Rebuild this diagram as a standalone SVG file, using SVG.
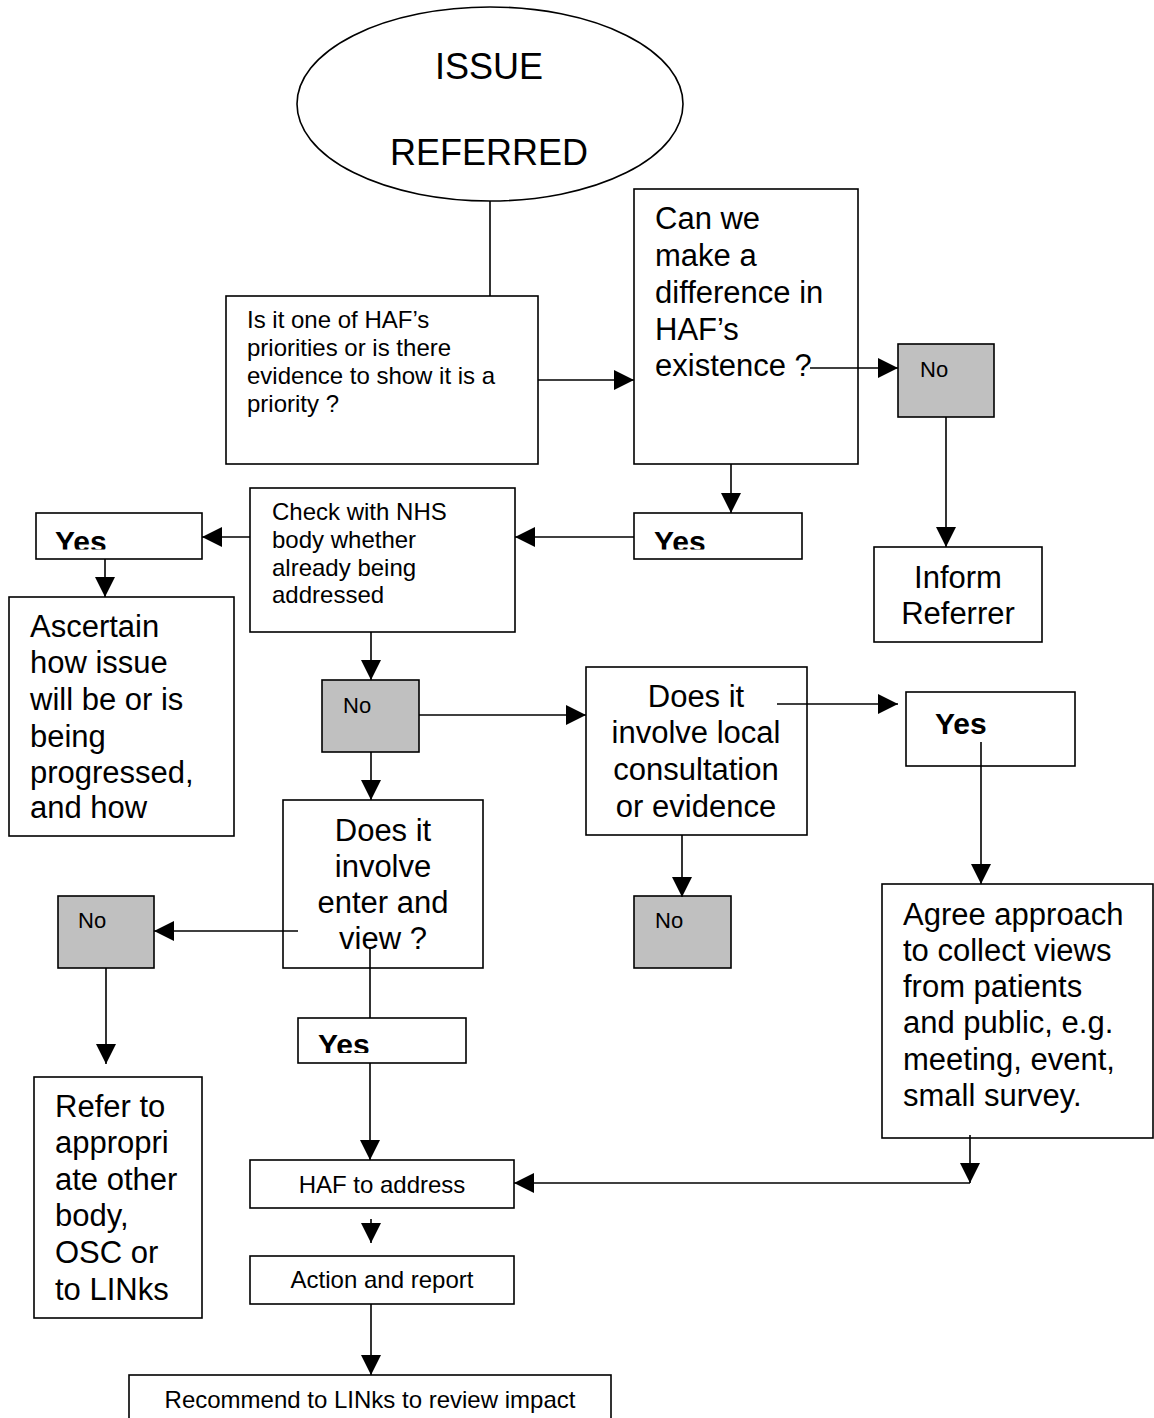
<svg xmlns="http://www.w3.org/2000/svg" width="1154" height="1418" viewBox="0 0 1154 1418">
<style>
.box{fill:#fff;stroke:#000;stroke-width:1.6}
.grey{fill:#c0c0c0;stroke:#000;stroke-width:1.6}
.t{font-family:"Liberation Sans",Arial,sans-serif;fill:#000}
.big{font-size:31px}
.sm{font-size:24px}
.no{font-size:22px}
.yes{font-size:30px;font-weight:bold}
.huge{font-size:36px}
.mid{text-anchor:middle}
.ln{fill:none;stroke:#000;stroke-width:1.6}
.ar{marker-end:url(#ah)}
</style>
<defs>
<marker id="ah" markerUnits="userSpaceOnUse" markerWidth="20" markerHeight="20" refX="20" refY="10" orient="auto">
<path d="M0,0 L20,10 L0,20 z" fill="#000"/>
</marker>
<clipPath id="cy1"><rect x="36" y="513" width="166" height="36.5"/></clipPath>
<clipPath id="cy2"><rect x="634" y="513" width="168" height="36.5"/></clipPath>
<clipPath id="cy3"><rect x="298" y="1018" width="168" height="35"/></clipPath>
</defs>

<g id="issue-referred">
<ellipse class="box" cx="490" cy="104" rx="193" ry="97"/>
<text class="t huge mid" x="489" y="79">ISSUE</text>
<text class="t huge mid" x="489" y="165">REFERRED</text>
</g>

<g id="priority">
<rect class="box" x="226" y="296" width="312" height="168"/>
<text class="t sm"><tspan x="247" y="328">Is it one of HAF’s</tspan><tspan x="247" y="356">priorities or is there</tspan><tspan x="247" y="384">evidence to show it is a</tspan><tspan x="247" y="412">priority ?</tspan></text>
</g>

<g id="make-difference">
<rect class="box" x="634" y="189" width="224" height="275"/>
<text class="t big"><tspan x="655" y="229">Can we</tspan><tspan x="655" y="266">make a</tspan><tspan x="655" y="303">difference in</tspan><tspan x="655" y="340">HAF’s</tspan><tspan x="655" y="376">existence ?</tspan></text>
</g>

<g id="no1">
<rect class="grey" x="898" y="344" width="96" height="73"/>
<text class="t no" x="920" y="377">No</text>
</g>

<g id="inform-referrer">
<rect class="box" x="874" y="547" width="168" height="95"/>
<text class="t big mid"><tspan x="958" y="588">Inform</tspan><tspan x="958" y="624">Referrer</tspan></text>
</g>

<g id="yes-right">
<rect class="box" x="634" y="513" width="168" height="46"/>
<text class="t yes" x="654" y="552" clip-path="url(#cy2)">Yes</text>
</g>

<g id="check-nhs">
<rect class="box" x="250" y="488" width="265" height="144"/>
<text class="t sm"><tspan x="272" y="520">Check with NHS</tspan><tspan x="272" y="548">body whether</tspan><tspan x="272" y="576">already being</tspan><tspan x="272" y="603">addressed</tspan></text>
</g>

<g id="yes-left">
<rect class="box" x="36" y="513" width="166" height="46"/>
<text class="t yes" x="55" y="552" clip-path="url(#cy1)">Yes</text>
</g>

<g id="ascertain">
<rect class="box" x="9" y="597" width="225" height="239"/>
<text class="t big"><tspan x="30" y="637">Ascertain</tspan><tspan x="30" y="673">how issue</tspan><tspan x="30" y="710">will be or is</tspan><tspan x="30" y="747">being</tspan><tspan x="30" y="783">progressed,</tspan><tspan x="30" y="818">and how</tspan></text>
</g>

<g id="no2">
<rect class="grey" x="322" y="680" width="97" height="72"/>
<text class="t no" x="343" y="713">No</text>
</g>

<g id="local-consultation">
<rect class="box" x="586" y="667" width="221" height="168"/>
<text class="t big mid"><tspan x="696" y="707">Does it</tspan><tspan x="696" y="743">involve local</tspan><tspan x="696" y="780">consultation</tspan><tspan x="696" y="817">or evidence</tspan></text>
</g>

<g id="yes2">
<rect class="box" x="906" y="692" width="169" height="74"/>
<text class="t yes" x="935" y="734">Yes</text>
</g>

<g id="no3">
<rect class="grey" x="634" y="896" width="97" height="72"/>
<text class="t no" x="655" y="928">No</text>
</g>

<g id="agree-approach">
<rect class="box" x="882" y="884" width="271" height="254"/>
<text class="t big"><tspan x="903" y="925">Agree approach</tspan><tspan x="903" y="961">to collect views</tspan><tspan x="903" y="997">from patients</tspan><tspan x="903" y="1033">and public, e.g.</tspan><tspan x="903" y="1070">meeting, event,</tspan><tspan x="903" y="1106">small survey.</tspan></text>
</g>

<g id="enter-view">
<rect class="box" x="283" y="800" width="200" height="168"/>
<text class="t big mid"><tspan x="383" y="841">Does it</tspan><tspan x="383" y="877">involve</tspan><tspan x="383" y="913">enter and</tspan><tspan x="383" y="949">view ?</tspan></text>
</g>

<g id="no4">
<rect class="grey" x="58" y="896" width="96" height="72"/>
<text class="t no" x="78" y="928">No</text>
</g>

<g id="refer-other">
<rect class="box" x="34" y="1077" width="168" height="241"/>
<text class="t big"><tspan x="55" y="1117">Refer to</tspan><tspan x="55" y="1153">appropri</tspan><tspan x="55" y="1190">ate other</tspan><tspan x="55" y="1226">body,</tspan><tspan x="55" y="1263">OSC or</tspan><tspan x="55" y="1300">to LINks</tspan></text>
</g>

<g id="yes3">
<rect class="box" x="298" y="1018" width="168" height="45"/>
<text class="t yes" x="318" y="1055" clip-path="url(#cy3)">Yes</text>
</g>

<g id="haf-address">
<rect class="box" x="250" y="1160" width="264" height="48"/>
<text class="t sm mid" x="382" y="1193">HAF to address</text>
</g>

<g id="action-report">
<rect class="box" x="250" y="1256" width="264" height="48"/>
<text class="t sm mid" x="382" y="1288">Action and report</text>
</g>

<g id="recommend">
<rect class="box" x="129" y="1375" width="482" height="60"/>
<text class="t sm mid" x="370" y="1408">Recommend to LINks to review impact</text>
</g>

<g id="connectors">
<path class="ln" d="M490,201 V296"/>
<path class="ln ar" d="M538,380 H634"/>
<path class="ln ar" d="M810,368 H898"/>
<path class="ln ar" d="M731,464 V513"/>
<path class="ln ar" d="M946,417 V547"/>
<path class="ln ar" d="M634,537 H515"/>
<path class="ln ar" d="M250,537 H202"/>
<path class="ln ar" d="M105,559 V597"/>
<path class="ln ar" d="M371,632 V680"/>
<path class="ln ar" d="M371,752 V800"/>
<path class="ln ar" d="M419,715 H586"/>
<path class="ln ar" d="M777,704 H898"/>
<path class="ln ar" d="M981,742 V884"/>
<path class="ln ar" d="M682,835 V897"/>
<path class="ln ar" d="M298,931 H154"/>
<path class="ln ar" d="M106,968 V1064"/>
<path class="ln" d="M370,947 V1018"/>
<path class="ln ar" d="M370,1063 V1160"/>
<path class="ln ar" d="M970,1135 V1183"/>
<path class="ln ar" d="M970,1183 H514"/>
<path class="ln ar" d="M371,1219 V1243"/>
<path class="ln ar" d="M371,1304 V1375"/>
</g>
</svg>
